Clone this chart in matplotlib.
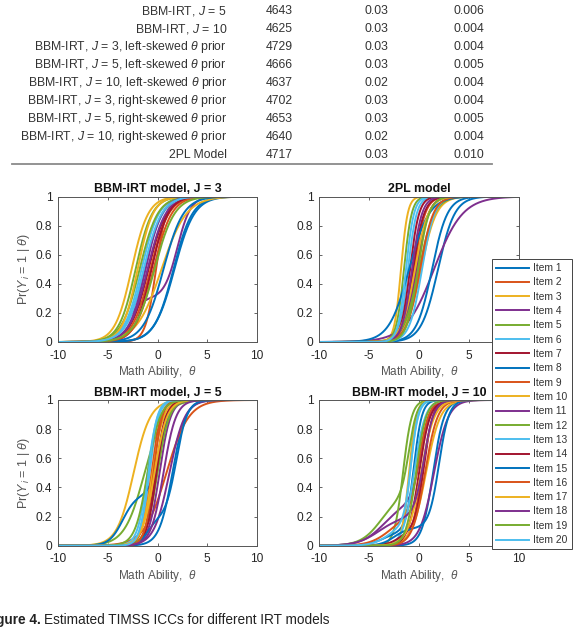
import numpy as np
import matplotlib
matplotlib.use("Agg")
import matplotlib.pyplot as plt

plt.rcParams['font.family'] = ['Liberation Sans', 'DejaVu Sans']
plt.rcParams['mathtext.fontset'] = 'custom'
plt.rcParams['mathtext.rm'] = 'Liberation Sans'
plt.rcParams['mathtext.it'] = 'Liberation Sans:italic'
plt.rcParams['mathtext.bf'] = 'Liberation Sans:bold'
plt.rcParams['axes.unicode_minus'] = False

# ---------------- table data ----------------
table_models = ["BBM-IRT, $J$ = 5", "BBM-IRT, $J$ = 10",
                r"BBM-IRT, $J$ = 3, left-skewed $\theta$ prior",
                r"BBM-IRT, $J$ = 5, left-skewed $\theta$ prior",
                r"BBM-IRT, $J$ = 10, left-skewed $\theta$ prior",
                r"BBM-IRT, $J$ = 3, right-skewed $\theta$ prior",
                r"BBM-IRT, $J$ = 5, right-skewed $\theta$ prior",
                r"BBM-IRT, $J$ = 10, right-skewed $\theta$ prior",
                "2PL Model"]
table_col1 = ["4643", "4625", "4729", "4666", "4637", "4702", "4653", "4640", "4717"]
table_col2 = ["0.03", "0.03", "0.03", "0.03", "0.02", "0.03", "0.03", "0.02", "0.03"]
table_col3 = ["0.006", "0.004", "0.004", "0.005", "0.004", "0.004", "0.005", "0.004", "0.010"]

# ---------------- ICC data (item parameters) ----------------
items = [f"Item {i}" for i in range(1, 21)]
panel_titles = ["BBM-IRT model, J = 3", "2PL model", "BBM-IRT model, J = 5", "BBM-IRT model, J = 10"]
x_ticks = [-10, -5, 0, 5, 10]
y_ticks = [0, 0.2, 0.4, 0.6, 0.8, 1]
y_ticklabels = ["0", "0.2", "0.4", "0.6", "0.8", "1"]

# main logistic component: slope and location
j3_slope = [1.0, 1.9, 1.2, 1.5, 1.2, 1.15, 1.1, 1.05, 1.1, 0.8, 1.1, 1.1, 1.1, 1.2, 1.0, 1.1, 1.3, 1.2, 1.0, 1.1]
j3_loc   = [1.7, -0.15, -2.6, 2.0, -2.2, -1.6, -0.9, 1.6, -0.7, 0.4, -1.0, -1.8, -1.3, -0.6, 0.6, -0.4, -2.0, -1.2, -0.3, -1.4]
# lower (early) component: weight, slope, location
j3_low_w     = [0, 0, 0, 0.3, 0, 0, 0, 0, 0, 0, 0, 0, 0, 0, 0, 0, 0, 0, 0, 0]
j3_low_slope = [1, 1, 1, 1.5, 1, 1, 1, 1, 1, 1, 1, 1, 1, 1, 1, 1, 1, 1, 1, 1]
j3_low_loc   = [0, 0, 0, -3.0, 0, 0, 0, 0, 0, 0, 0, 0, 0, 0, 0, 0, 0, 0, 0, 0]

pl2_slope = [1.2, 1.8, 3.0, 0.7, 2.6, 2.3, 2.2, 1.3, 1.7, 1.3, 1.6, 1.3, 1.6, 1.8, 1.0, 1.5, 1.5, 2.0, 1.8, 2.5]
pl2_loc   = [1.9, -0.5, -1.8, 1.5, -1.5, -1.1, -0.9, 1.3, -0.2, 0.2, -0.3, 0.0, 0.3, -0.6, -1.0, 0.1, -0.4, -0.7, -0.1, -1.3]

j5_slope = [1.5, 0.9, 1.2, 1.3, 1.0, 2.2, 2.0, 2.0, 2.1, 1.8, 1.8, 1.7, 2.0, 2.0, 1.8, 2.3, 1.6, 1.6, 1.6, 2.3]
j5_loc   = [1.5, 0.9, -2.4, 1.2, -1.3, -0.8, -0.2, 0.3, -0.6, -0.5, 0.2, 0.0, -1.0, -0.1, 1.9, -0.4, -0.3, 0.6, -1.0, -0.9]
j5_low_w     = [0, 0, 0, 0, 0, 0, 0, 0.35, 0, 0, 0, 0, 0, 0, 0.18, 0, 0, 0, 0, 0]
j5_low_slope = [1, 1, 1, 1, 1, 1, 1, 1.5, 1, 1, 1, 1, 1, 1, 2.0, 1, 1, 1, 1, 1]
j5_low_loc   = [0, 0, 0, 0, 0, 0, 0, -3.5, 0, 0, 0, 0, 0, 0, -1.0, 0, 0, 0, 0, 0]

j10_slope = [1.8, 1.8, 1.4, 2.0, 2.3, 2.5, 1.8, 2.5, 2.0, 2.8, 1.4, 2.5, 1.8, 2.2, 2.0, 1.6, 1.5, 2.0, 2.0, 2.8]
j10_loc   = [1.4, 0.3, 0.7, 0.2, -1.6, -0.9, 0.0, -0.5, 0.0, -1.0, 1.5, -1.0, -0.5, 0.5, 2.0, 0.6, 0.2, 0.5, -0.3, -0.8]
j10_low_w     = [0, 0, 0, 0.3, 0, 0, 0, 0.1, 0.2, 0, 0, 0.35, 0, 0.1, 0.12, 0, 0, 0.2, 0, 0.15]
j10_low_slope = [1, 1, 1, 0.9, 1, 1, 1, 1.2, 1.0, 1, 1, 1.0, 1, 1.5, 1.5, 1, 1, 0.9, 1, 1.2]
j10_low_loc   = [0, 0, 0, -3.5, 0, 0, 0, -3.5, -3.0, 0, 0, -3.8, 0, -2.0, -2.5, 0, 0, -4.0, 0, -3.0]

zeros = [0] * 20
ones = [1] * 20
panels = [
    (j3_slope, j3_loc, j3_low_w, j3_low_slope, j3_low_loc),
    (pl2_slope, pl2_loc, zeros, ones, zeros),
    (j5_slope, j5_loc, j5_low_w, j5_low_slope, j5_low_loc),
    (j10_slope, j10_loc, j10_low_w, j10_low_slope, j10_low_loc),
]

matlab_colors = ['#0072BD', '#D95319', '#EDB120', '#7E2F8E', '#77AC30', '#4DBEEE', '#A2142F']

W, H = 575, 642
fig = plt.figure(figsize=(W / 100, H / 100), dpi=100)

def fx(px):
    return px / W

def fy(py):
    return 1 - py / H

# ---------------- table ----------------
tc = '#333333'
row_y = [11 + 18 * i for i in range(9)]
for i in range(9):
    y = fy(row_y[i])
    fig.text(fx(227), y, table_models[i], ha='right', va='center', fontsize=8.8, color=tc)
    fig.text(fx(279), y, table_col1[i], ha='center', va='center', fontsize=8.8, color=tc)
    fig.text(fx(376.5), y, table_col2[i], ha='center', va='center', fontsize=8.8, color=tc)
    fig.text(fx(469), y, table_col3[i], ha='center', va='center', fontsize=8.8, color=tc)
fig.add_artist(plt.Line2D([fx(12), fx(492)], [fy(163.5), fy(163.5)], color='#8a8a8a', lw=1.3))

# ---------------- ICC panels ----------------
axes_px = [(58, 196.5, 257, 342), (319, 196.5, 519, 342),
           (58, 400, 257, 545.7), (319, 400, 519, 545.7)]
theta = np.linspace(-10, 10, 801)
ac = '#262626'
handles = []
for k, (l, t, r, b) in enumerate(axes_px):
    ax = fig.add_axes([fx(l), fy(b), fx(r) - fx(l), (b - t) / H])
    slope, loc, lw_, lslope, lloc = panels[k]
    for i in range(20):
        main = 1 / (1 + np.exp(-slope[i] * (theta - loc[i])))
        low = 1 / (1 + np.exp(-lslope[i] * (theta - lloc[i])))
        p = (1 - lw_[i]) * main + lw_[i] * low
        h, = ax.plot(theta, p, color=matlab_colors[i % 7], lw=1.4, label=items[i])
        if k == 0:
            handles.append(h)
    ax.set_xlim(-10, 10)
    ax.set_ylim(0, 1)
    ax.set_xticks(x_ticks)
    ax.set_xticklabels([str(v) for v in x_ticks])
    ax.set_yticks(y_ticks)
    ax.set_yticklabels(y_ticklabels)
    ax.tick_params(direction='in', top=True, right=True, length=2.5, width=0.5,
                   labelsize=8.6, colors=ac)
    ax.tick_params(axis='x', pad=5.5)
    ax.tick_params(axis='y', pad=4)
    for s in ax.spines.values():
        s.set_color('#555555')
        s.set_linewidth(0.7)
    ax.set_title(panel_titles[k], fontsize=8.9, fontweight='bold', color='#111111', pad=3)
    ax.set_xlabel(r'Math Ability,  $\theta$', fontsize=8.5, color='#555555', labelpad=2)
    if k in (0, 2):
        ax.set_ylabel(r'Pr($Y_{\,i}$ = 1 | $\theta$)', fontsize=9, color='#555555', labelpad=3)

leg = fig.legend(handles=handles, loc='upper left', bbox_to_anchor=(fx(492), fy(259)),
                 fontsize=7.4, frameon=True, fancybox=False, framealpha=1,
                 handlelength=3.2, handletextpad=0.4, labelspacing=0.42,
                 borderpad=0.4, borderaxespad=0)
leg.get_frame().set_edgecolor('#444444')
leg.get_frame().set_linewidth(0.7)
for txt in leg.get_texts():
    txt.set_color('#333333')

# ---------------- caption ----------------
fig.text(fx(41), fy(620), "Figure 4.", ha='right', va='center', fontsize=9.8,
         fontweight='bold', color='#222222')
fig.text(fx(44), fy(620), "Estimated TIMSS ICCs for different IRT models", ha='left',
         va='center', fontsize=9.8, color='#222222')

fig.savefig('out.png', dpi=100, facecolor='white')
